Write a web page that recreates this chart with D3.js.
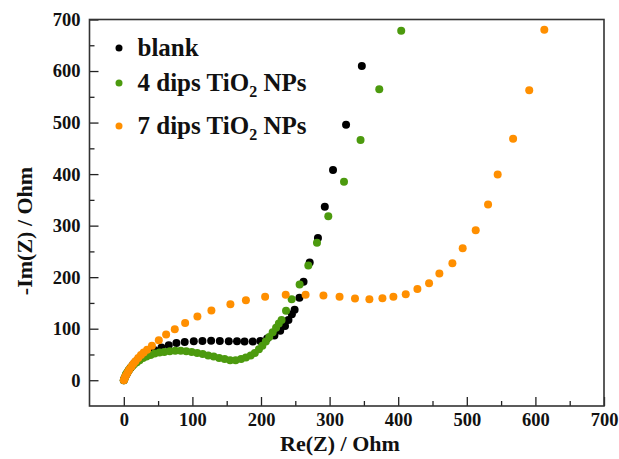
<!DOCTYPE html>
<html>
<head>
<meta charset="utf-8">
<script src="https://cdn.jsdelivr.net/npm/d3@7"></script>
<style>
  body { margin: 0; background: #fff; }
</style>
</head>
<body>
<svg id="chart" width="619" height="459"></svg>
<script>
// DATA
const seriesNames = ["blank", "4 dips TiO", "7 dips TiO"];
const seriesColors = ["#000000", "#4c9a0e", "#ff8f00"];

const blankRe = [0, 1, 3, 5, 7, 10, 13, 16, 20, 24, 29, 34, 40, 45, 55, 65.5, 76.7, 88.8, 102, 114.6, 127.3, 140, 153, 165, 176, 188, 199, 209, 219.5, 228, 235, 240, 245, 249, 256, 262, 271, 283, 293, 305, 324, 347];
const blankIm = [0, 4, 9, 14, 19, 24, 29, 34, 39, 44, 48, 52, 55, 58, 63.5, 68, 72.4, 74.4, 75.7, 76.3, 76.7, 76.3, 75.7, 75.7, 75.1, 75.1, 76.3, 81, 87, 96, 105, 117, 128, 137, 160, 191, 228.5, 276, 336.5, 408, 496, 610];

const dips4Re = [0, 1, 2, 3, 5, 7, 9, 12, 15, 19, 23, 28, 33, 39, 45, 52, 59, 67, 75, 83, 91, 99, 107, 115, 123, 131, 139, 147, 155, 163, 171, 178, 185, 191, 197, 202, 207, 212, 217, 222, 226, 230, 236.5, 244.7, 256.3, 269, 281.6, 298.1, 321, 345.1, 372.4, 404.4];
const dips4Im = [0, 3, 7, 11, 15, 19, 23, 27, 31, 35, 39, 43, 46, 49, 52, 54, 55, 56, 57, 57, 56, 55, 53, 51, 48, 46, 43, 41, 39, 39, 41, 44, 48, 53, 60, 67, 75, 84, 93, 102, 110, 117, 134.6, 157.3, 185.8, 222.7, 266.6, 318.4, 385, 466, 564.5, 678.3];

const dips7Re = [0, 1, 2, 4, 6, 8, 11, 14, 17, 21, 25, 29, 34, 41, 51, 61.7, 74.3, 89.4, 107.3, 127.7, 155.4, 178, 206, 236, 265, 291, 314.5, 337, 358, 377, 393, 411, 428, 445, 460, 479, 494, 513, 531, 545, 567.5, 591, 613];
const dips7Im = [0, 3, 7, 11, 16, 21, 26, 32, 37, 43, 49, 54, 59, 67, 77.7, 88.7, 99, 111, 123.7, 135.3, 147.6, 155, 162, 166, 166, 164.5, 162, 158.6, 157.3, 159, 162, 167, 177, 188, 207, 227, 256, 291, 341, 399, 468.5, 562.5, 680];

const xTicks = [0, 100, 200, 300, 400, 500, 600, 700];
const yTicks = [0, 100, 200, 300, 400, 500, 600, 700];

const serif = "Liberation Serif";

// CANVAS SETUP
const svg = d3.select("#chart");
const margin = { top: 19.5, right: 15, bottom: 53, left: 89.5 };
const width = 619 - margin.left - margin.right,
  height = 459 - margin.top - margin.bottom;

const x = d3.scaleLinear().domain([-50, 700]).range([0, width]);
const y = d3.scaleLinear().domain([-50, 700]).range([height, 0]);

const g = svg.append("g").attr("transform", `translate(${margin.left},${margin.top})`);

// AXES (ticks point inward)
const xAxis = g.append("g")
  .attr("transform", `translate(0,${height})`)
  .call(d3.axisBottom(x).tickValues(xTicks).tickSize(-9).tickPadding(7).tickFormat(d3.format("d")));
const xMinor = g.append("g")
  .attr("transform", `translate(0,${height})`)
  .call(d3.axisBottom(x).tickValues(d3.range(50, 700, 100)).tickSize(-5).tickFormat(""));
const yAxis = g.append("g")
  .call(d3.axisLeft(y).tickValues(yTicks).tickSize(-9).tickPadding(9).tickFormat(d3.format("d")));
const yMinor = g.append("g")
  .call(d3.axisLeft(y).tickValues(d3.range(50, 700, 100)).tickSize(-5).tickFormat(""));

[xAxis, xMinor, yAxis, yMinor].forEach((a) => {
  a.select(".domain").remove();
  a.attr("font-family", serif).attr("font-weight", "bold");
  a.selectAll(".tick line").attr("stroke", "#222").attr("stroke-width", 1.3);
});
xAxis.selectAll(".tick text").attr("font-size", 18.5).attr("fill", "#111");
yAxis.selectAll(".tick text").attr("font-size", 18.5).attr("fill", "#111");

g.append("rect")
  .attr("width", width)
  .attr("height", height)
  .attr("fill", "none")
  .attr("stroke", "#333")
  .attr("stroke-width", 1.6);

// RENDER points
const series = [
  { re: blankRe, im: blankIm, color: seriesColors[0] },
  { re: dips4Re, im: dips4Im, color: seriesColors[1] },
  { re: dips7Re, im: dips7Im, color: seriesColors[2] },
];

series.forEach((s) => {
  g.append("g")
    .selectAll("circle")
    .data(s.re.map((d, i) => [d, s.im[i]]))
    .join("circle")
    .attr("cx", (d) => x(d[0]))
    .attr("cy", (d) => y(d[1]))
    .attr("r", 4)
    .attr("fill", s.color);
});

// LEGEND
const legend = g.append("g").attr("font-family", serif).attr("font-weight", "bold");
const legendY = [48, 83, 126];
seriesNames.forEach((name, i) => {
  const row = legend.append("g").attr("transform", `translate(0,${legendY[i] - margin.top})`);
  row.append("circle").attr("cx", 119 - margin.left).attr("cy", 0).attr("r", 3.5).attr("fill", seriesColors[i]);
  const t = row.append("text")
    .attr("x", 137.5 - margin.left)
    .attr("y", 7.5)
    .attr("font-size", 25)
    .attr("fill", "#111")
    .text(name);
  if (i > 0) {
    t.append("tspan").attr("font-size", 16).attr("dy", 6).text("2");
    t.append("tspan").attr("dy", -6).text(" NPs");
  }
});

// AXIS TITLES
svg.append("text")
  .attr("x", 340)
  .attr("y", 451)
  .attr("text-anchor", "middle")
  .attr("font-family", serif)
  .attr("font-weight", "bold")
  .attr("font-size", 22)
  .attr("fill", "#111")
  .text("Re(Z) / Ohm");

svg.append("text")
  .attr("transform", "translate(32,231) rotate(-90)")
  .attr("text-anchor", "middle")
  .attr("font-family", serif)
  .attr("font-weight", "bold")
  .attr("font-size", 22)
  .attr("fill", "#111")
  .text("-Im(Z) / Ohm");
</script>
</body>
</html>
